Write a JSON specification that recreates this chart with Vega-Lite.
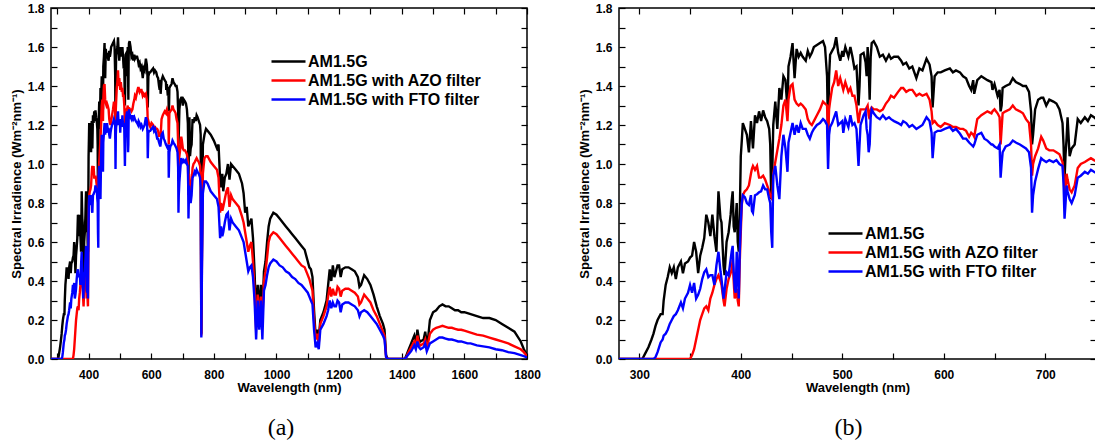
{
  "$schema": "https://vega.github.io/schema/vega-lite/v6.json",
  "padding": {"left": 9, "top": 1, "right": 0, "bottom": 0},
  "background": "white",
  "datasets": {
    "spec": [
      {"w":280,"k":0,"r":0,"b":0},{"w":300,"k":0,"r":0,"b":0},{"w":303,"k":0,"r":0,"b":0},{"w":306,"k":0.03,"r":0,"b":0},
      {"w":309,"k":0.06,"r":0,"b":0},{"w":312,"k":0.10,"r":0,"b":0},{"w":314,"k":0.13,"r":0,"b":0},{"w":316,"k":0.17,"r":0,"b":0.01},
      {"w":318,"k":0.20,"r":0,"b":0.035},{"w":321,"k":0.23,"r":0,"b":0.085},{"w":323,"k":0.23,"r":0,"b":0.10},{"w":324,"k":0.30,"r":0,"b":0.12},
      {"w":326,"k":0.38,"r":0,"b":0.13},{"w":328,"k":0.42,"r":0,"b":0.15},{"w":330,"k":0.47,"r":0,"b":0.18},{"w":332,"k":0.44,"r":0,"b":0.20},
      {"w":334,"k":0.47,"r":0,"b":0.22},{"w":336,"k":0.41,"r":0,"b":0.23},{"w":338,"k":0.47,"r":0,"b":0.25},{"w":341,"k":0.50,"r":0,"b":0.29},
      {"w":343,"k":0.44,"r":0,"b":0.26},{"w":345,"k":0.49,"r":0,"b":0.31},{"w":348,"k":0.50,"r":0,"b":0.34},{"w":350,"k":0.52,"r":0,"b":0.38},
      {"w":352,"k":0.53,"r":0.02,"b":0.34},{"w":354,"k":0.60,"r":0.05,"b":0.39},{"w":356,"k":0.55,"r":0.10,"b":0.31},{"w":358,"k":0.44,"r":0.15,"b":0.33},
      {"w":360,"k":0.53,"r":0.20,"b":0.36},{"w":362,"k":0.57,"r":0.23,"b":0.41},{"w":364,"k":0.62,"r":0.26,"b":0.445},{"w":366,"k":0.74,"r":0.27,"b":0.46},
      {"w":368,"k":0.70,"r":0.25,"b":0.42},{"w":370,"k":0.63,"r":0.31,"b":0.43},{"w":372,"k":0.74,"r":0.34,"b":0.43},{"w":374,"k":0.63,"r":0.38,"b":0.38},
      {"w":376,"k":0.55,"r":0.41,"b":0.48},{"w":378,"k":0.86,"r":0.43,"b":0.55},{"w":380,"k":0.72,"r":0.40,"b":0.45},{"w":381,"k":0.70,"r":0.38,"b":0.41},
      {"w":383,"k":0.48,"r":0.30,"b":0.31},{"w":384,"k":0.43,"r":0.27,"b":0.35},{"w":386,"k":0.60,"r":0.36,"b":0.445},{"w":388,"k":0.65,"r":0.41,"b":0.43},
      {"w":390,"k":0.74,"r":0.44,"b":0.51},{"w":391,"k":0.81,"r":0.46,"b":0.55},{"w":392,"k":0.86,"r":0.51,"b":0.58},{"w":393,"k":0.68,"r":0.40,"b":0.45},
      {"w":394,"k":0.65,"r":0.31,"b":0.36},{"w":395,"k":0.72,"r":0.33,"b":0.34},{"w":396,"k":0.80,"r":0.36,"b":0.55},{"w":397,"k":0.60,"r":0.30,"b":0.45},
      {"w":398,"k":0.55,"r":0.27,"b":0.31},{"w":399,"k":0.74,"r":0.50,"b":0.55},{"w":400,"k":1.04,"r":0.65,"b":0.70},{"w":401,"k":1.12,"r":0.79,"b":0.80},
      {"w":402,"k":1.21,"r":0.84,"b":0.84},{"w":404,"k":1.18,"r":0.86,"b":0.83},{"w":406,"k":1.15,"r":0.87,"b":0.80},{"w":408,"k":1.06,"r":0.89,"b":0.79},
      {"w":410,"k":1.22,"r":0.95,"b":0.84},{"w":411,"k":1.15,"r":0.975,"b":0.76},{"w":412,"k":1.08,"r":0.99,"b":0.75},{"w":414,"k":1.25,"r":0.97,"b":0.84},
      {"w":416,"k":1.21,"r":0.99,"b":0.845},{"w":418,"k":1.27,"r":0.93,"b":0.855},{"w":420,"k":1.22,"r":0.93,"b":0.86},{"w":422,"k":1.275,"r":0.94,"b":0.89},
      {"w":424,"k":1.24,"r":0.92,"b":0.87},{"w":426,"k":1.22,"r":0.89,"b":0.87},{"w":428,"k":1.18,"r":0.86,"b":0.82},{"w":429,"k":1.10,"r":0.84,"b":0.80},
      {"w":430,"k":0.82,"r":0.83,"b":0.65},{"w":431,"k":0.95,"r":0.82,"b":0.57},{"w":432,"k":1.20,"r":0.95,"b":0.94},{"w":434,"k":1.32,"r":1.01,"b":0.99},
      {"w":436,"k":1.18,"r":1.07,"b":0.89},{"w":438,"k":1.39,"r":1.13,"b":0.82},{"w":440,"k":1.33,"r":1.20,"b":1.04},{"w":442,"k":1.45,"r":1.30,"b":1.15},
      {"w":444,"k":1.43,"r":1.33,"b":1.08},{"w":446,"k":1.28,"r":1.22,"b":0.96},{"w":447,"k":1.50,"r":1.33,"b":1.11},{"w":449,"k":1.55,"r":1.40,"b":1.16},
      {"w":451,"k":1.62,"r":1.41,"b":1.21},{"w":453,"k":1.44,"r":1.33,"b":1.15},{"w":455,"k":1.59,"r":1.31,"b":1.20},{"w":457,"k":1.55,"r":1.30,"b":1.16},
      {"w":459,"k":1.57,"r":1.31,"b":1.21},{"w":461,"k":1.55,"r":1.30,"b":1.18},{"w":464,"k":1.53,"r":1.28,"b":1.18},{"w":466,"k":1.58,"r":1.23,"b":1.15},
      {"w":468,"k":1.55,"r":1.21,"b":1.13},{"w":470,"k":1.57,"r":1.20,"b":1.16},{"w":472,"k":1.60,"r":1.22,"b":1.18},{"w":475,"k":1.61,"r":1.25,"b":1.20},
      {"w":478,"k":1.62,"r":1.28,"b":1.21},{"w":481,"k":1.63,"r":1.32,"b":1.23},{"w":483,"k":1.60,"r":1.31,"b":1.22},{"w":485,"k":1.45,"r":1.30,"b":1.20},
      {"w":486,"k":1.15,"r":1.13,"b":0.975},{"w":487,"k":1.45,"r":1.28,"b":1.15},{"w":488,"k":1.56,"r":1.32,"b":1.19},{"w":490,"k":1.58,"r":1.39,"b":1.21},
      {"w":492,"k":1.60,"r":1.42,"b":1.24},{"w":494,"k":1.65,"r":1.48,"b":1.27},{"w":496,"k":1.57,"r":1.40,"b":1.20},{"w":498,"k":1.53,"r":1.44,"b":1.21},
      {"w":500,"k":1.58,"r":1.40,"b":1.22},{"w":501,"k":1.55,"r":1.38,"b":1.16},{"w":503,"k":1.60,"r":1.42,"b":1.23},{"w":506,"k":1.55,"r":1.37,"b":1.19},
      {"w":508,"k":1.60,"r":1.39,"b":1.25},{"w":510,"k":1.55,"r":1.35,"b":1.20},{"w":512,"k":1.49,"r":1.35,"b":1.21},{"w":514,"k":1.50,"r":1.30,"b":1.18},
      {"w":516,"k":1.30,"r":1.21,"b":0.99},{"w":517,"k":1.40,"r":1.25,"b":1.10},{"w":518,"k":1.56,"r":1.28,"b":1.20},{"w":521,"k":1.57,"r":1.28,"b":1.25},
      {"w":523,"k":1.52,"r":1.28,"b":1.27},{"w":524,"k":1.45,"r":1.29,"b":1.18},{"w":525,"k":1.60,"r":1.30,"b":1.15},{"w":526,"k":1.50,"r":1.25,"b":1.06},
      {"w":527,"k":1.33,"r":1.23,"b":1.10},{"w":528,"k":1.55,"r":1.28,"b":1.24},{"w":529,"k":1.62,"r":1.29,"b":1.28},{"w":531,"k":1.63,"r":1.28,"b":1.26},
      {"w":534,"k":1.60,"r":1.28,"b":1.24},{"w":537,"k":1.55,"r":1.27,"b":1.23},{"w":540,"k":1.56,"r":1.28,"b":1.25},{"w":543,"k":1.53,"r":1.31,"b":1.23},
      {"w":546,"k":1.56,"r":1.33,"b":1.24},{"w":548,"k":1.54,"r":1.35,"b":1.23},{"w":551,"k":1.55,"r":1.34,"b":1.22},{"w":555,"k":1.55,"r":1.37,"b":1.21},
      {"w":558,"k":1.53,"r":1.39,"b":1.20},{"w":560,"k":1.51,"r":1.39,"b":1.22},{"w":563,"k":1.52,"r":1.37,"b":1.21},{"w":566,"k":1.49,"r":1.38,"b":1.19},
      {"w":569,"k":1.50,"r":1.38,"b":1.20},{"w":573,"k":1.44,"r":1.35,"b":1.18},{"w":576,"k":1.49,"r":1.36,"b":1.19},{"w":579,"k":1.48,"r":1.35,"b":1.20},
      {"w":583,"k":1.54,"r":1.36,"b":1.24},{"w":586,"k":1.51,"r":1.33,"b":1.22},{"w":588,"k":1.45,"r":1.27,"b":1.16},{"w":589,"k":1.29,"r":1.21,"b":1.03},
      {"w":591,"k":1.45,"r":1.22,"b":1.16},{"w":594,"k":1.47,"r":1.20,"b":1.17},{"w":597,"k":1.47,"r":1.19,"b":1.17},{"w":601,"k":1.48,"r":1.21,"b":1.18},
      {"w":606,"k":1.49,"r":1.20,"b":1.19},{"w":609,"k":1.47,"r":1.19,"b":1.17},{"w":612,"k":1.48,"r":1.19,"b":1.18},{"w":616,"k":1.47,"r":1.18,"b":1.155},
      {"w":619,"k":1.45,"r":1.18,"b":1.13},{"w":622,"k":1.44,"r":1.17,"b":1.13},{"w":625,"k":1.40,"r":1.14,"b":1.11},{"w":627,"k":1.38,"r":1.16,"b":1.10},
      {"w":629,"k":1.43,"r":1.15,"b":1.09},{"w":630,"k":1.36,"r":1.14,"b":1.10},{"w":633,"k":1.43,"r":1.23,"b":1.15},{"w":637,"k":1.45,"r":1.25,"b":1.16},
      {"w":640,"k":1.44,"r":1.26,"b":1.13},{"w":643,"k":1.43,"r":1.27,"b":1.12},{"w":647,"k":1.42,"r":1.26,"b":1.10},{"w":648,"k":1.38,"r":1.27,"b":1.10},
      {"w":650,"k":1.41,"r":1.28,"b":1.09},{"w":653,"k":1.35,"r":1.26,"b":1.08},{"w":655,"k":1.38,"r":1.24,"b":1.10},{"w":656,"k":1.27,"r":1.10,"b":0.93},
      {"w":657,"k":1.30,"r":1.18,"b":1.00},{"w":658,"k":1.39,"r":1.26,"b":1.06},{"w":661,"k":1.40,"r":1.27,"b":1.09},{"w":665,"k":1.41,"r":1.28,"b":1.10},
      {"w":668,"k":1.44,"r":1.30,"b":1.12},{"w":671,"k":1.42,"r":1.28,"b":1.11},{"w":675,"k":1.41,"r":1.27,"b":1.10},{"w":678,"k":1.40,"r":1.26,"b":1.09},
      {"w":681,"k":1.40,"r":1.23,"b":1.08},{"w":684,"k":1.37,"r":1.21,"b":1.06},{"w":686,"k":1.27,"r":1.10,"b":0.98},{"w":687,"k":1.10,"r":0.94,"b":0.75},
      {"w":688,"k":1.15,"r":1.00,"b":0.84},{"w":690,"k":1.28,"r":1.04,"b":0.91},{"w":693,"k":1.33,"r":1.08,"b":0.975},{"w":696,"k":1.34,"r":1.14,"b":1.03},
      {"w":698,"k":1.34,"r":1.12,"b":1.02},{"w":701,"k":1.30,"r":1.08,"b":1.01},{"w":704,"k":1.33,"r":1.07,"b":1.02},{"w":708,"k":1.32,"r":1.07,"b":1.01},
      {"w":711,"k":1.31,"r":1.06,"b":1.02},{"w":714,"k":1.28,"r":1.05,"b":1.00},{"w":717,"k":1.21,"r":1.01,"b":0.99},{"w":718,"k":1.10,"r":0.95,"b":0.90},
      {"w":719,"k":0.92,"r":0.84,"b":0.72},{"w":720,"k":1.05,"r":0.88,"b":0.80},{"w":721,"k":1.13,"r":0.95,"b":0.89},{"w":722,"k":1.24,"r":0.92,"b":0.86},
      {"w":724,"k":1.04,"r":0.87,"b":0.82},{"w":726,"k":1.08,"r":0.855,"b":0.80},{"w":729,"k":1.10,"r":0.89,"b":0.84},{"w":732,"k":1.23,"r":0.98,"b":0.93},
      {"w":735,"k":1.21,"r":1.00,"b":0.94},{"w":739,"k":1.24,"r":1.01,"b":0.96},{"w":742,"k":1.22,"r":1.02,"b":0.95},{"w":745,"k":1.25,"r":1.03,"b":0.97},
      {"w":748,"k":1.24,"r":1.02,"b":0.96},{"w":752,"k":1.22,"r":1.01,"b":0.95},{"w":756,"k":1.20,"r":0.99,"b":0.93},{"w":758,"k":1.15,"r":0.95,"b":0.88},
      {"w":760,"k":0.13,"r":0.12,"b":0.11},{"w":762,"k":0.60,"r":0.50,"b":0.45},{"w":765,"k":1.10,"r":0.95,"b":0.85},{"w":770,"k":1.15,"r":1.03,"b":0.91},
      {"w":775,"k":1.18,"r":1.04,"b":0.91},{"w":780,"k":1.17,"r":1.04,"b":0.90},{"w":790,"k":1.15,"r":1.01,"b":0.86},{"w":800,"k":1.12,"r":0.99,"b":0.84},
      {"w":810,"k":1.08,"r":0.97,"b":0.82},{"w":815,"k":1.10,"r":0.93,"b":0.78},{"w":820,"k":0.92,"r":0.75,"b":0.62},{"w":823,"k":0.88,"r":0.80,"b":0.68},
      {"w":827,"k":0.95,"r":0.76,"b":0.63},{"w":830,"k":0.86,"r":0.78,"b":0.65},{"w":835,"k":0.93,"r":0.82,"b":0.70},{"w":840,"k":0.95,"r":0.86,"b":0.74},
      {"w":845,"k":1.00,"r":0.88,"b":0.75},{"w":850,"k":0.92,"r":0.78,"b":0.66},{"w":855,"k":1.00,"r":0.84,"b":0.72},{"w":860,"k":0.99,"r":0.82,"b":0.70},
      {"w":870,"k":0.97,"r":0.80,"b":0.68},{"w":880,"k":0.95,"r":0.78,"b":0.66},{"w":890,"k":0.90,"r":0.73,"b":0.62},{"w":895,"k":0.85,"r":0.70,"b":0.60},
      {"w":900,"k":0.75,"r":0.65,"b":0.55},{"w":905,"k":0.78,"r":0.60,"b":0.50},{"w":910,"k":0.68,"r":0.55,"b":0.45},{"w":915,"k":0.70,"r":0.58,"b":0.47},
      {"w":920,"k":0.72,"r":0.60,"b":0.48},{"w":925,"k":0.62,"r":0.50,"b":0.42},{"w":930,"k":0.45,"r":0.35,"b":0.30},{"w":935,"k":0.20,"r":0.15,"b":0.10},
      {"w":940,"k":0.38,"r":0.33,"b":0.30},{"w":945,"k":0.25,"r":0.20,"b":0.15},{"w":950,"k":0.38,"r":0.32,"b":0.30},{"w":955,"k":0.22,"r":0.20,"b":0.10},
      {"w":960,"k":0.45,"r":0.40,"b":0.35},{"w":965,"k":0.50,"r":0.45,"b":0.38},{"w":970,"k":0.60,"r":0.52,"b":0.43},{"w":975,"k":0.68,"r":0.60,"b":0.47},
      {"w":980,"k":0.72,"r":0.63,"b":0.49},{"w":990,"k":0.75,"r":0.65,"b":0.51},{"w":1000,"k":0.74,"r":0.64,"b":0.50},{"w":1010,"k":0.72,"r":0.62,"b":0.48},
      {"w":1020,"k":0.70,"r":0.60,"b":0.47},{"w":1030,"k":0.68,"r":0.58,"b":0.45},{"w":1040,"k":0.66,"r":0.56,"b":0.44},{"w":1050,"k":0.64,"r":0.54,"b":0.42},
      {"w":1060,"k":0.62,"r":0.52,"b":0.41},{"w":1070,"k":0.60,"r":0.50,"b":0.39},{"w":1080,"k":0.58,"r":0.48,"b":0.38},{"w":1090,"k":0.56,"r":0.47,"b":0.36},
      {"w":1100,"k":0.50,"r":0.43,"b":0.34},{"w":1105,"k":0.47,"r":0.41,"b":0.32},{"w":1110,"k":0.46,"r":0.38,"b":0.30},{"w":1115,"k":0.42,"r":0.35,"b":0.28},
      {"w":1120,"k":0.25,"r":0.20,"b":0.15},{"w":1125,"k":0.12,"r":0.10,"b":0.06},{"w":1130,"k":0.15,"r":0.13,"b":0.08},{"w":1135,"k":0.10,"r":0.08,"b":0.05},
      {"w":1140,"k":0.20,"r":0.18,"b":0.15},{"w":1150,"k":0.24,"r":0.22,"b":0.18},{"w":1160,"k":0.30,"r":0.27,"b":0.22},{"w":1165,"k":0.38,"r":0.32,"b":0.25},
      {"w":1170,"k":0.46,"r":0.37,"b":0.30},{"w":1175,"k":0.40,"r":0.32,"b":0.26},{"w":1180,"k":0.48,"r":0.36,"b":0.29},{"w":1185,"k":0.42,"r":0.33,"b":0.27},
      {"w":1190,"k":0.45,"r":0.33,"b":0.27},{"w":1195,"k":0.48,"r":0.37,"b":0.30},{"w":1200,"k":0.48,"r":0.36,"b":0.29},{"w":1205,"k":0.42,"r":0.32,"b":0.24},
      {"w":1210,"k":0.46,"r":0.35,"b":0.28},{"w":1220,"k":0.47,"r":0.36,"b":0.29},{"w":1230,"k":0.47,"r":0.36,"b":0.29},{"w":1240,"k":0.46,"r":0.35,"b":0.28},
      {"w":1250,"k":0.45,"r":0.34,"b":0.27},{"w":1260,"k":0.42,"r":0.32,"b":0.25},{"w":1265,"k":0.37,"r":0.28,"b":0.22},{"w":1270,"k":0.38,"r":0.29,"b":0.24},
      {"w":1280,"k":0.43,"r":0.33,"b":0.25},{"w":1290,"k":0.41,"r":0.31,"b":0.24},{"w":1300,"k":0.38,"r":0.29,"b":0.22},{"w":1310,"k":0.33,"r":0.25,"b":0.20},
      {"w":1320,"k":0.27,"r":0.22,"b":0.18},{"w":1330,"k":0.22,"r":0.18,"b":0.15},{"w":1340,"k":0.18,"r":0.14,"b":0.12},{"w":1345,"k":0.15,"r":0.12,"b":0.10},
      {"w":1350,"k":0.02,"r":0.01,"b":0.01},{"w":1355,"k":0,"r":0,"b":0},{"w":1410,"k":0,"r":0,"b":0},{"w":1415,"k":0.02,"r":0.01,"b":0.01},
      {"w":1420,"k":0.04,"r":0.03,"b":0.02},{"w":1430,"k":0.08,"r":0.06,"b":0.04},{"w":1440,"k":0.12,"r":0.09,"b":0.07},{"w":1445,"k":0.08,"r":0.07,"b":0.05},
      {"w":1450,"k":0.15,"r":0.12,"b":0.09},{"w":1455,"k":0.10,"r":0.08,"b":0.06},{"w":1460,"k":0.09,"r":0.07,"b":0.05},{"w":1470,"k":0.10,"r":0.08,"b":0.06},
      {"w":1475,"k":0.14,"r":0.10,"b":0.08},{"w":1480,"k":0.08,"r":0.06,"b":0.04},{"w":1485,"k":0.12,"r":0.09,"b":0.06},{"w":1490,"k":0.20,"r":0.13,"b":0.08},
      {"w":1500,"k":0.24,"r":0.15,"b":0.09},{"w":1510,"k":0.25,"r":0.16,"b":0.10},{"w":1520,"k":0.27,"r":0.165,"b":0.11},{"w":1530,"k":0.28,"r":0.17,"b":0.11},
      {"w":1540,"k":0.27,"r":0.165,"b":0.105},{"w":1550,"k":0.27,"r":0.16,"b":0.10},{"w":1560,"k":0.26,"r":0.16,"b":0.10},{"w":1570,"k":0.25,"r":0.155,"b":0.095},
      {"w":1580,"k":0.25,"r":0.15,"b":0.09},{"w":1590,"k":0.24,"r":0.15,"b":0.09},{"w":1600,"k":0.24,"r":0.145,"b":0.085},{"w":1610,"k":0.235,"r":0.14,"b":0.08},
      {"w":1620,"k":0.23,"r":0.135,"b":0.08},{"w":1640,"k":0.22,"r":0.125,"b":0.07},{"w":1660,"k":0.21,"r":0.12,"b":0.065},{"w":1680,"k":0.21,"r":0.11,"b":0.06},
      {"w":1700,"k":0.20,"r":0.10,"b":0.05},{"w":1720,"k":0.18,"r":0.09,"b":0.045},{"w":1740,"k":0.16,"r":0.08,"b":0.035},{"w":1760,"k":0.14,"r":0.065,"b":0.03},
      {"w":1780,"k":0.09,"r":0.05,"b":0.02},{"w":1790,"k":0.05,"r":0.035,"b":0.015},{"w":1800,"k":0.02,"r":0.015,"b":0.008}
    ]
  },
  "hconcat": [
    {
      "width": 476,
      "height": 351,
      "title": {"text": "(a)", "orient": "bottom", "frame": "group", "anchor": "middle", "dx": -8, "offset": 22, "font": "Liberation Serif", "fontSize": 24, "fontWeight": "normal", "color": "black"},
      "data": {"name": "spec"},
      "transform": [{"fold": ["k", "r", "b"], "as": ["key", "value"]}],
      "layer": [
        {
          "mark": {"type": "line", "strokeWidth": 2.4, "clip": true},
          "encoding": {
            "x": {"field": "w", "type": "quantitative", "scale": {"domain": [280, 1800], "nice": false, "zero": false},
              "axis": {"orient": "bottom", "title": "Wavelength (nm)", "values": [300,400,500,600,700,800,900,1000,1100,1200,1300,1400,1500,1600,1700,1800], "format": "d",
                "labelExpr": "datum.value % 200 == 0 ? datum.label : ''", "tickSize": -6, "labelPadding": 16, "titlePadding": 1, "labelFlush": false, "labelOverlap": false,
                "encode": {"ticks": {"update": {"y2": {"signal": "datum.value % 200 == 0 ? -6 : -3"}}}}}},
            "y": {"field": "value", "type": "quantitative", "scale": {"domain": [0, 1.8], "nice": false},
              "axis": {"orient": "left", "title": "Spectral Irradience (Wm⁻²nm⁻¹)", "values": [0,0.1,0.2,0.3,0.4,0.5,0.6,0.7,0.8,0.9,1,1.1,1.2,1.3,1.4,1.5,1.6,1.7,1.8], "format": ".1f",
                "labelExpr": "round(datum.value*10) % 2 == 0 ? datum.label : ''", "tickSize": -6, "labelPadding": 13, "titlePadding": 4, "labelFlush": false, "labelOverlap": false,
                "encode": {"ticks": {"update": {"x2": {"signal": "round(datum.value*10) % 2 == 0 ? 6 : 3"}}}}}},
            "color": {"field": "key", "type": "nominal", "scale": {"domain": ["k", "r", "b"], "range": ["#000000", "#ff0000", "#0000ff"]},
              "legend": {"orient": "none", "legendX": 219, "legendY": 45, "title": null, "padding": 0, "symbolType": "stroke", "symbolSize": 1156, "symbolStrokeWidth": 2.5,
                "clipHeight": 17, "rowPadding": 2, "labelOffset": 1, "labelLimit": 0, "labelFont": "Liberation Sans", "labelFontSize": 16, "labelFontWeight": "bold", "labelColor": "black",
                "labelExpr": "datum.value == 'k' ? 'AM1.5G' : datum.value == 'r' ? 'AM1.5G with AZO filter' : 'AM1.5G with FTO filter'"}}
          }
        },
        {
          "transform": [{"filter": "datum.key == 'k'"}],
          "mark": {"type": "line", "opacity": 0},
          "encoding": {
            "x": {"field": "w", "type": "quantitative", "axis": {"orient": "top", "title": null, "labels": false, "values": [300,400,500,600,700,800,900,1000,1100,1200,1300,1400,1500,1600,1700,1800], "tickSize": -6,
              "encode": {"ticks": {"update": {"y2": {"signal": "datum.value % 200 == 0 ? 6 : 3"}}}}}},
            "y": {"field": "value", "type": "quantitative", "axis": {"orient": "right", "title": null, "labels": false, "values": [0,0.1,0.2,0.3,0.4,0.5,0.6,0.7,0.8,0.9,1,1.1,1.2,1.3,1.4,1.5,1.6,1.7,1.8], "tickSize": -6,
              "encode": {"ticks": {"update": {"x2": {"signal": "round(datum.value*10) % 2 == 0 ? -6 : -3"}}}}}}
          }
        }
      ]
    },
    {
      "width": 477,
      "height": 351,
      "title": {"text": "(b)", "orient": "bottom", "frame": "group", "anchor": "middle", "dx": -9, "offset": 22, "font": "Liberation Serif", "fontSize": 24, "fontWeight": "normal", "color": "black"},
      "data": {"name": "spec"},
      "transform": [{"filter": "datum.w <= 760"}, {"fold": ["k", "r", "b"], "as": ["key", "value"]}],
      "layer": [
        {
          "mark": {"type": "line", "strokeWidth": 2.4, "clip": true},
          "encoding": {
            "x": {"field": "w", "type": "quantitative", "scale": {"domain": [280, 750], "nice": false, "zero": false},
              "axis": {"orient": "bottom", "title": "Wavelength (nm)", "values": [300,350,400,450,500,550,600,650,700,750], "format": "d",
                "labelExpr": "datum.value % 100 == 0 ? datum.label : ''", "tickSize": -6, "labelPadding": 16, "titlePadding": 1, "labelFlush": false, "labelOverlap": false,
                "encode": {"ticks": {"update": {"y2": {"signal": "datum.value % 100 == 0 ? -6 : -3"}}}}}},
            "y": {"field": "value", "type": "quantitative", "scale": {"domain": [0, 1.8], "nice": false},
              "axis": {"orient": "left", "title": "Spectral Irradience (Wm⁻²nm⁻¹)", "values": [0,0.1,0.2,0.3,0.4,0.5,0.6,0.7,0.8,0.9,1,1.1,1.2,1.3,1.4,1.5,1.6,1.7,1.8], "format": ".1f",
                "labelExpr": "round(datum.value*10) % 2 == 0 ? datum.label : ''", "tickSize": -6, "labelPadding": 13, "titlePadding": 4, "labelFlush": false, "labelOverlap": false,
                "encode": {"ticks": {"update": {"x2": {"signal": "round(datum.value*10) % 2 == 0 ? 6 : 3"}}}}}},
            "color": {"field": "key", "type": "nominal", "scale": {"domain": ["k", "r", "b"], "range": ["#000000", "#ff0000", "#0000ff"]},
              "legend": {"orient": "none", "legendX": 208, "legendY": 217, "title": null, "padding": 0, "symbolType": "stroke", "symbolSize": 1156, "symbolStrokeWidth": 2.5,
                "clipHeight": 17, "rowPadding": 2, "labelOffset": 1, "labelLimit": 0, "labelFont": "Liberation Sans", "labelFontSize": 16, "labelFontWeight": "bold", "labelColor": "black",
                "labelExpr": "datum.value == 'k' ? 'AM1.5G' : datum.value == 'r' ? 'AM1.5G with AZO filter' : 'AM1.5G with FTO filter'"}}
          }
        },
        {
          "transform": [{"filter": "datum.key == 'k'"}],
          "mark": {"type": "line", "opacity": 0},
          "encoding": {
            "x": {"field": "w", "type": "quantitative", "axis": {"orient": "top", "title": null, "labels": false, "values": [300,350,400,450,500,550,600,650,700,750], "tickSize": -6,
              "encode": {"ticks": {"update": {"y2": {"signal": "datum.value % 100 == 0 ? 6 : 3"}}}}}},
            "y": {"field": "value", "type": "quantitative", "axis": {"orient": "right", "title": null, "labels": false, "values": [0,0.1,0.2,0.3,0.4,0.5,0.6,0.7,0.8,0.9,1,1.1,1.2,1.3,1.4,1.5,1.6,1.7,1.8], "tickSize": -6,
              "encode": {"ticks": {"update": {"x2": {"signal": "round(datum.value*10) % 2 == 0 ? -6 : -3"}}}}}}
          }
        }
      ]
    }
  ],
  "spacing": 92,
  "bounds": "flush",
  "resolve": {"scale": {"color": "independent"}, "legend": {"color": "independent"}},
  "config": {
    "view": {"stroke": "black", "strokeWidth": 1.5},
    "axis": {"domain": false, "grid": false, "ticks": true, "labelFont": "Liberation Sans", "labelFontSize": 12, "labelFontWeight": "bold", "labelColor": "black",
      "titleFont": "Liberation Sans", "titleFontSize": 13, "titleFontWeight": "bold", "titleColor": "black", "tickColor": "black", "tickWidth": 1.2}
  }
}
